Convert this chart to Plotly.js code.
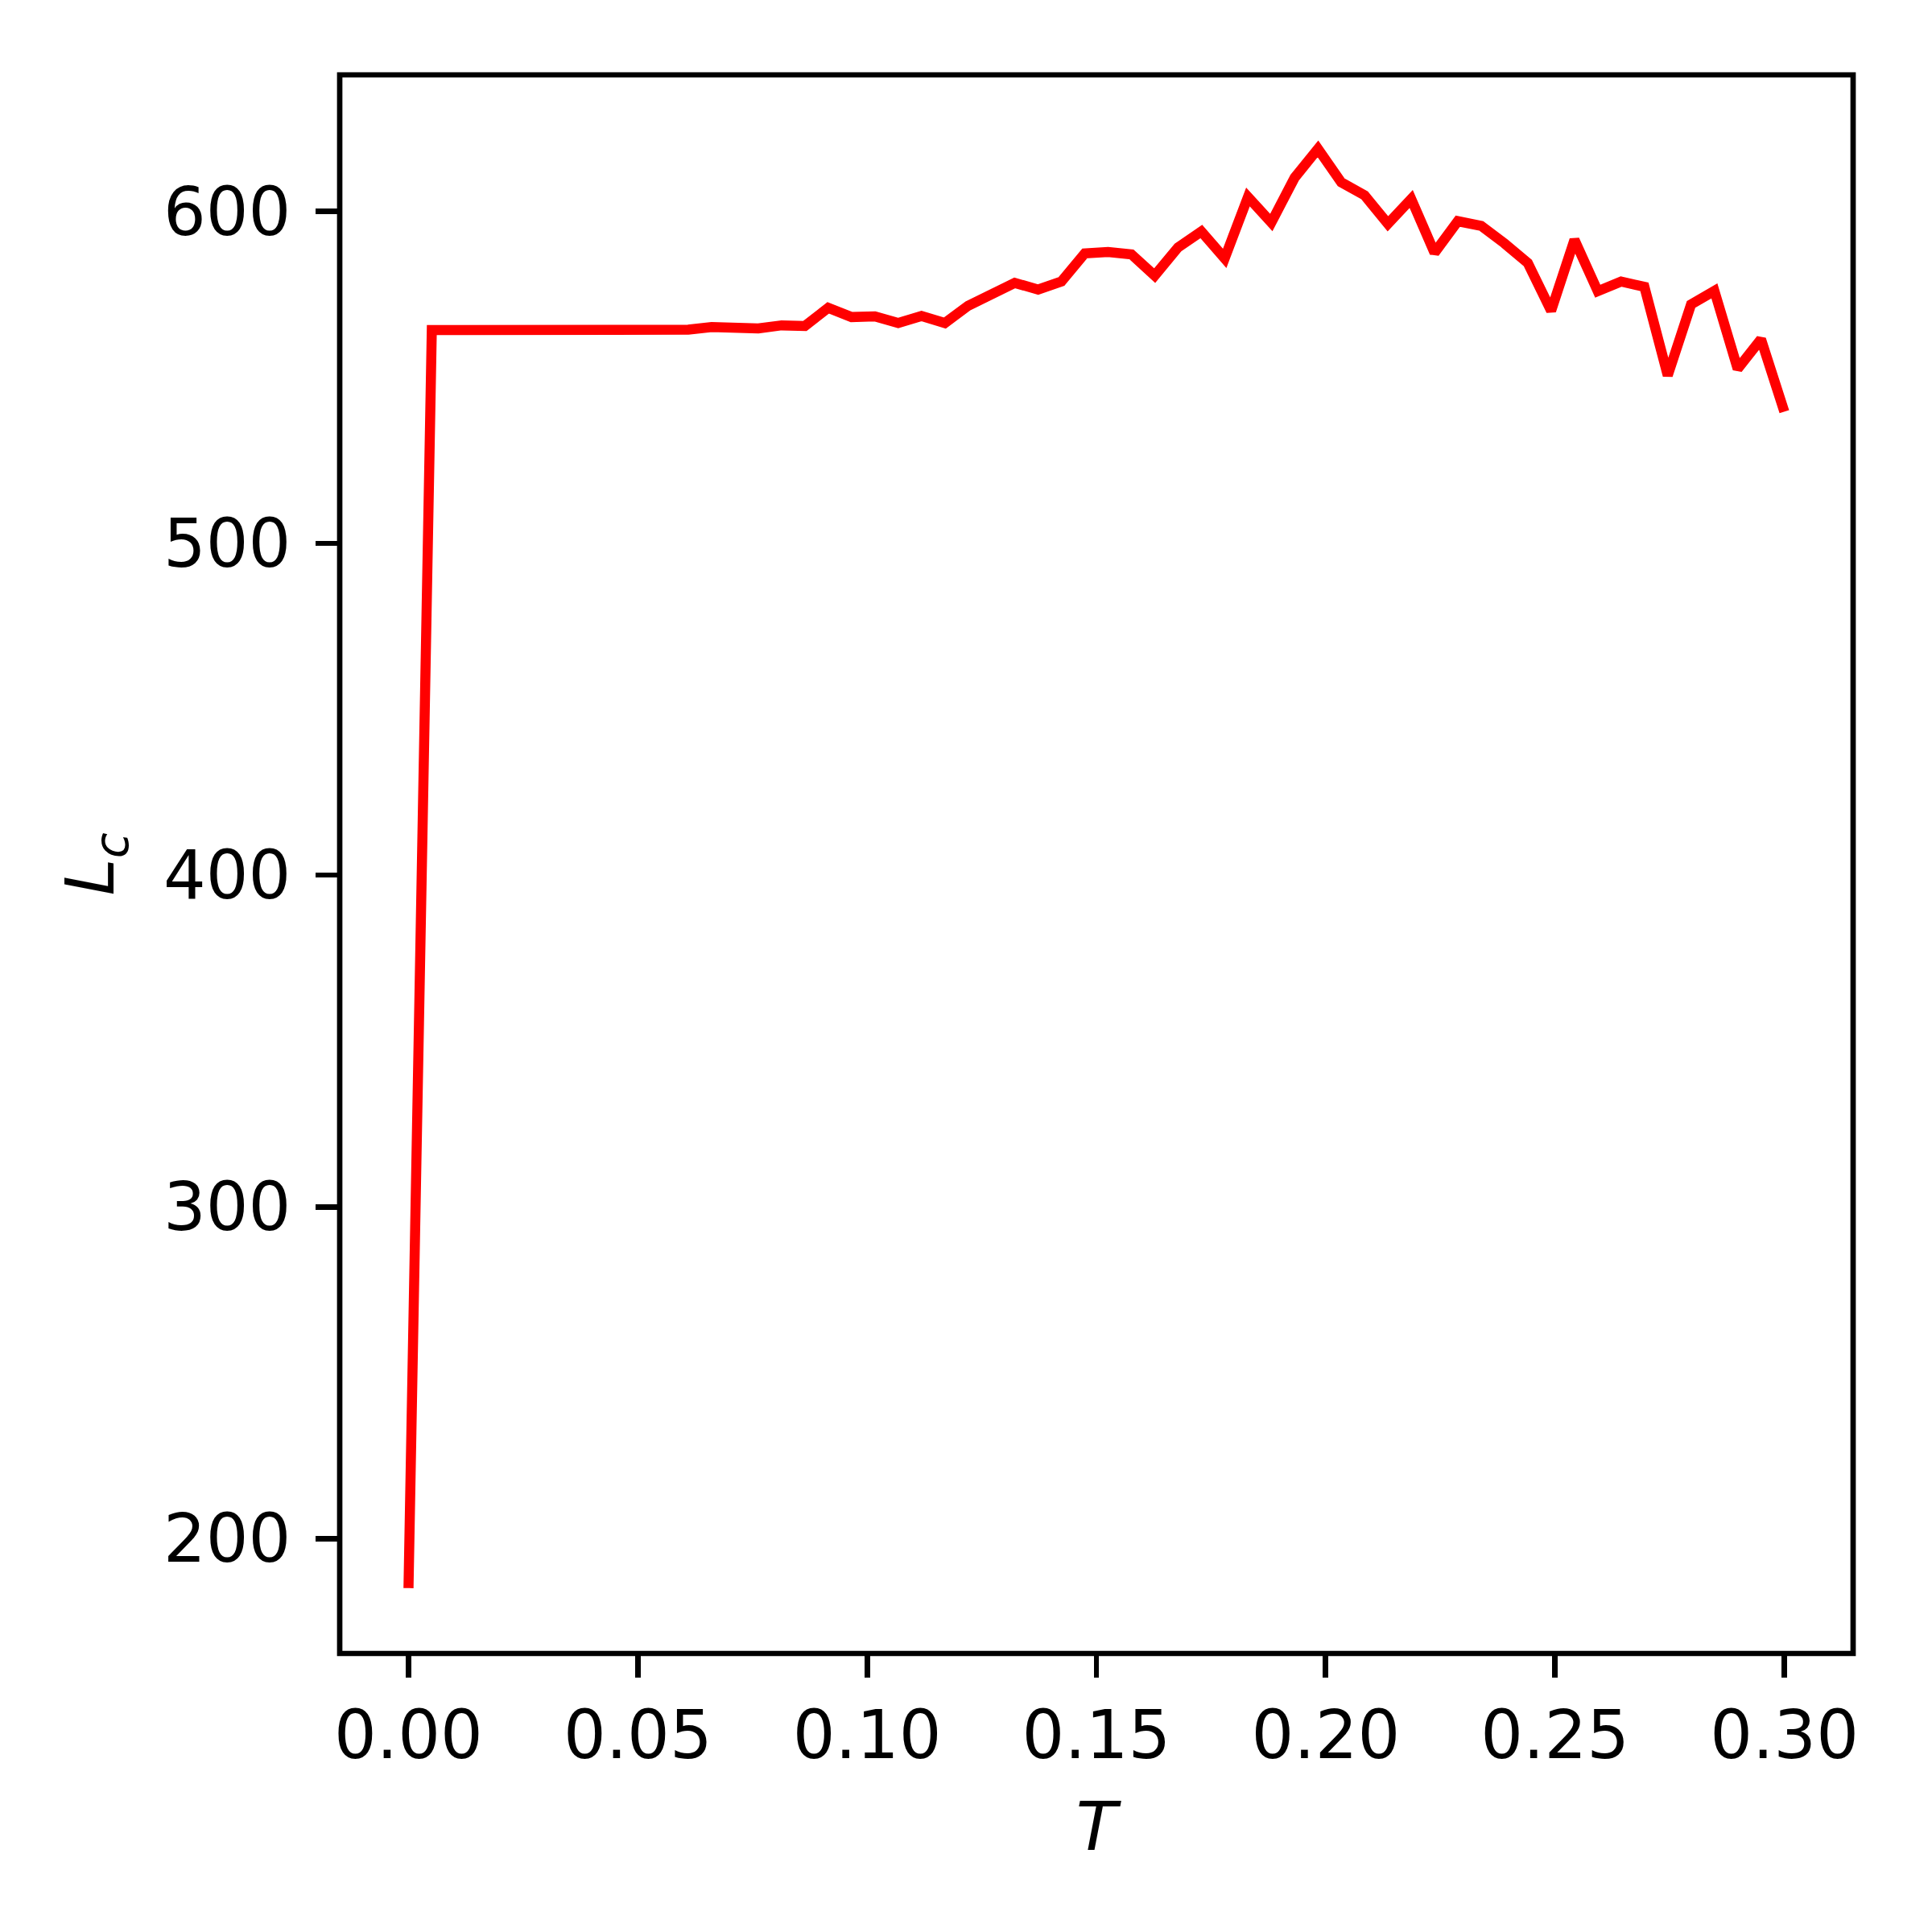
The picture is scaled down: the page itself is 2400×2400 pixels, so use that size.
<!DOCTYPE html>
<html>
<head>
<meta charset="utf-8">
<script src="https://cdn.plot.ly/plotly-3.0.1.min.js"></script>
<style>
  body { margin: 0; background: white; }
</style>
</head>
<body>
<div id="myDiv"></div>
<script>
// temperature T (60 evenly spaced points from 0 to 0.3)
var T = [0.00000, 0.00508, 0.01017, 0.01525, 0.02034, 0.02542, 0.03051, 0.03559, 0.04068, 0.04576,
         0.05085, 0.05593, 0.06102, 0.06610, 0.07119, 0.07627, 0.08136, 0.08644, 0.09153, 0.09661,
         0.10169, 0.10678, 0.11186, 0.11695, 0.12203, 0.12712, 0.13220, 0.13729, 0.14237, 0.14746,
         0.15254, 0.15763, 0.16271, 0.16780, 0.17288, 0.17797, 0.18305, 0.18814, 0.19322, 0.19831,
         0.20339, 0.20847, 0.21356, 0.21864, 0.22373, 0.22881, 0.23390, 0.23898, 0.24407, 0.24915,
         0.25424, 0.25932, 0.26441, 0.26949, 0.27458, 0.27966, 0.28475, 0.28983, 0.29492, 0.30000];

// L_c
var Lc = [185.1, 564.3, 564.3, 564.3, 564.3, 564.3, 564.3, 564.5, 564.5, 564.5,
          564.5, 564.5, 564.4, 565.2, 565.2, 564.8, 565.7, 565.5, 571.0, 568.2,
          568.4, 566.4, 568.5, 566.4, 571.6, 575.0, 578.5, 576.5, 578.9, 587.4,
          587.8, 587.1, 580.7, 589.2, 594.0, 585.9, 604.4, 596.7, 610.2, 618.9,
          608.8, 604.9, 596.3, 603.8, 587.6, 597.1, 595.7, 590.4, 584.5, 570.1,
          591.5, 576.0, 578.9, 577.3, 550.6, 572.0, 576.1, 552.6, 561.5, 539.7];

var xTicks = [0, 0.05, 0.10, 0.15, 0.20, 0.25, 0.30];
var yTicks = [200, 300, 400, 500, 600];

var trace = {
    x: T,
    y: Lc,
    type: 'scatter',
    mode: 'lines',
    line: {color: '#ff0000', width: 12.5},
    hoverinfo: 'x+y'
};

var tickfont = {
    family: 'DejaVu Sans, sans-serif',
    size: 83,
    color: 'black'
};

var layout = {
    width: 2400,
    height: 2400,
    margin: {l: 422, r: 98, t: 93, b: 346, pad: 0},
    paper_bgcolor: 'white',
    plot_bgcolor: 'white',
    showlegend: false,
    xaxis: {
        title: {
            text: '<i>T</i>',
            font: {family: 'DejaVu Sans, sans-serif', size: 83, color: 'black'},
            standoff: 37
        },
        range: [-0.015, 0.315],
        tickvals: xTicks,
        tickformat: '.2f',
        tickfont: tickfont,
        ticks: 'outside',
        ticklen: 29,
        tickwidth: 6.7,
        tickcolor: 'black',
        showline: false,
        showgrid: false,
        zeroline: false
    },
    yaxis: {
        title: {
            text: '<i>L</i><sub><i>c</i></sub>',
            font: {family: 'DejaVu Sans, sans-serif', size: 83, color: 'black'},
            standoff: 33
        },
        range: [165.4, 641.2],
        tickvals: yTicks,
        tickfont: tickfont,
        ticklabelstandoff: 14,
        ticks: 'outside',
        ticklen: 29,
        tickwidth: 6.7,
        tickcolor: 'black',
        showline: false,
        showgrid: false,
        zeroline: false
    },
    // box round the axes, centred on the plot edge like the spines
    shapes: [{
        type: 'rect',
        xref: 'paper', yref: 'paper',
        x0: 0, x1: 1, y0: 0, y1: 1,
        line: {color: 'black', width: 6.7},
        fillcolor: 'rgba(0,0,0,0)'
    }]
};

Plotly.newPlot('myDiv', [trace], layout, {staticPlot: true});
</script>
</body>
</html>
